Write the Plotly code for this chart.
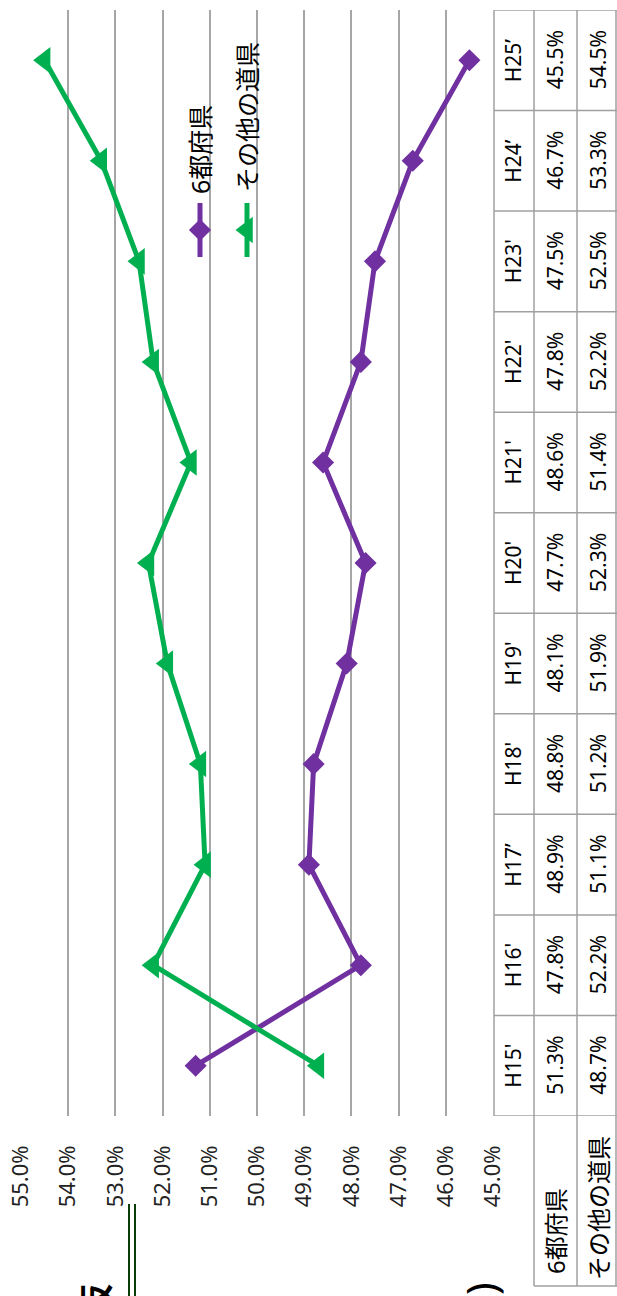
import plotly.graph_objects as go

categories = ["H15'", "H16'", "H17’", "H18'", "H19'", "H20'", "H21'", "H22'", "H23'", "H24’", "H25’"]
series_names = ["6都府県", "その他の道県"]
six_pref = [51.3, 47.8, 48.9, 48.8, 48.1, 47.7, 48.6, 47.8, 47.5, 46.7, 45.5]
others = [48.7, 52.2, 51.1, 51.2, 51.9, 52.3, 51.4, 52.2, 52.5, 53.3, 54.5]
value_ticks = [45, 46, 47, 48, 49, 50, 51, 52, 53, 54, 55]

W, H = 617, 1296
L, R, T, B = 21, 493, 10, 1116  # plot area in pixels
PW, PH = R - L, B - T

def px(x):
    return (x - L) / PW

def py(y):
    return (B - y) / PH

PURPLE = "#7030A0"
GREEN = "#00B050"
GRID = "#A6A6A6"
FONT = "Noto Sans, Noto Sans CJK JP, sans-serif"
idx = list(range(len(categories)))

fig = go.Figure()
fig.add_trace(go.Scatter(x=six_pref, y=idx, mode="lines+markers", name=series_names[0],
                         line=dict(color=PURPLE, width=5),
                         marker=dict(symbol="diamond", size=17, color=PURPLE),
                         cliponaxis=False))
fig.add_trace(go.Scatter(x=others, y=idx, mode="lines+markers", name=series_names[1],
                         line=dict(color=GREEN, width=5),
                         marker=dict(symbol="triangle-left", size=23, color=GREEN),
                         cliponaxis=False))

# legend symbols (rotated legend), placed in data space of the plot area
def val_at(xpix):
    return 55 - (xpix - L) / PW * 10

def idx_at(ypix):
    return (B - ypix) / PH * 11 - 0.5

for xpix, col, sym, sz in [(200, PURPLE, "diamond", 17), (247, GREEN, "triangle-left", 23)]:
    xv = val_at(xpix)
    fig.add_trace(go.Scatter(x=[xv, xv], y=[idx_at(257), idx_at(203)],
                             mode="lines", line=dict(color=col, width=5),
                             showlegend=False, cliponaxis=False, hoverinfo="skip"))
    fig.add_trace(go.Scatter(x=[xv], y=[idx_at(230)], mode="markers",
                             marker=dict(symbol=sym, size=sz, color=col, opacity=1),
                             showlegend=False, cliponaxis=False, hoverinfo="skip"))

shapes = []
annotations = []
line_style = dict(color="#A0A0A0", width=1.5)
# table vertical lines
for xpix, y0, y1 in [(494, T, B), (534, T, 1286), (577, T, 1286), (616, T, 1286)]:
    shapes.append(dict(type="line", xref="paper", yref="paper", x0=px(xpix), x1=px(xpix),
                       y0=py(y0), y1=py(y1), line=line_style, layer="above"))
# table row lines
for i in range(len(categories) + 1):
    shapes.append(dict(type="line", xref="paper", yref="y", x0=px(494), x1=px(617),
                       y0=i - 0.5, y1=i - 0.5, line=line_style))
shapes.append(dict(type="line", xref="paper", yref="paper", x0=px(534), x1=px(617),
                   y0=py(1286), y1=py(1286), line=line_style))

def rot_text(x, y, text, size, yref="paper", color="#000"):
    return dict(x=x, y=y, xref="paper", yref=yref, text=text, showarrow=False,
                textangle=-90, xanchor="center", yanchor="middle",
                font=dict(size=size, color=color, family=FONT))

# table text
for i, cat in enumerate(categories):
    annotations.append(rot_text(px(513), i, cat, 21, yref="y"))
    annotations.append(rot_text(px(555), i, f"{six_pref[i]:.1f}%", 21, yref="y"))
    annotations.append(rot_text(px(598), i, f"{others[i]:.1f}%", 21, yref="y"))
# row headers
annotations.append(rot_text(px(555), py(1231), series_names[0], 24))
annotations.append(rot_text(px(598), py(1208), series_names[1], 24))
# legend text
annotations.append(rot_text(px(200), py(150), series_names[0], 25))
annotations.append(rot_text(px(247), py(117), series_names[1], 25))

# stray page elements visible around the chart
for xpix in (129, 135):
    shapes.append(dict(type="line", xref="paper", yref="paper", x0=px(xpix), x1=px(xpix),
                       y0=py(1204), y1=py(1300), line=dict(color="#0A3D0A", width=2)))
annotations.append(rot_text(px(480), py(1289), ")", 42))
annotations.append(rot_text(px(96), py(1301), "<b>仮</b>", 34))

fig.update_layout(
    width=W, height=H, autosize=False,
    margin=dict(l=L, r=W - R, t=T, b=H - B, pad=0),
    paper_bgcolor="white", plot_bgcolor="white",
    showlegend=False,
    shapes=shapes, annotations=annotations,
    xaxis=dict(range=[55, 45], tickvals=value_ticks, ticktext=[f"{v:.1f}%" for v in value_ticks],
               tickangle=-90, showgrid=True, gridcolor=GRID, gridwidth=1.5, automargin=False,
               zeroline=False, showline=False, ticks="", ticklabelstandoff=24,
               tickfont=dict(size=22, color="#222", family=FONT)),
    yaxis=dict(range=[-0.5, 10.5], showticklabels=False, showgrid=False, zeroline=False,
               showline=False, automargin=False),
)

fig.write_html("out.html", config={"displayModeBar": False},
               post_script="document.body.style.margin='0';document.body.style.overflow='hidden';")
